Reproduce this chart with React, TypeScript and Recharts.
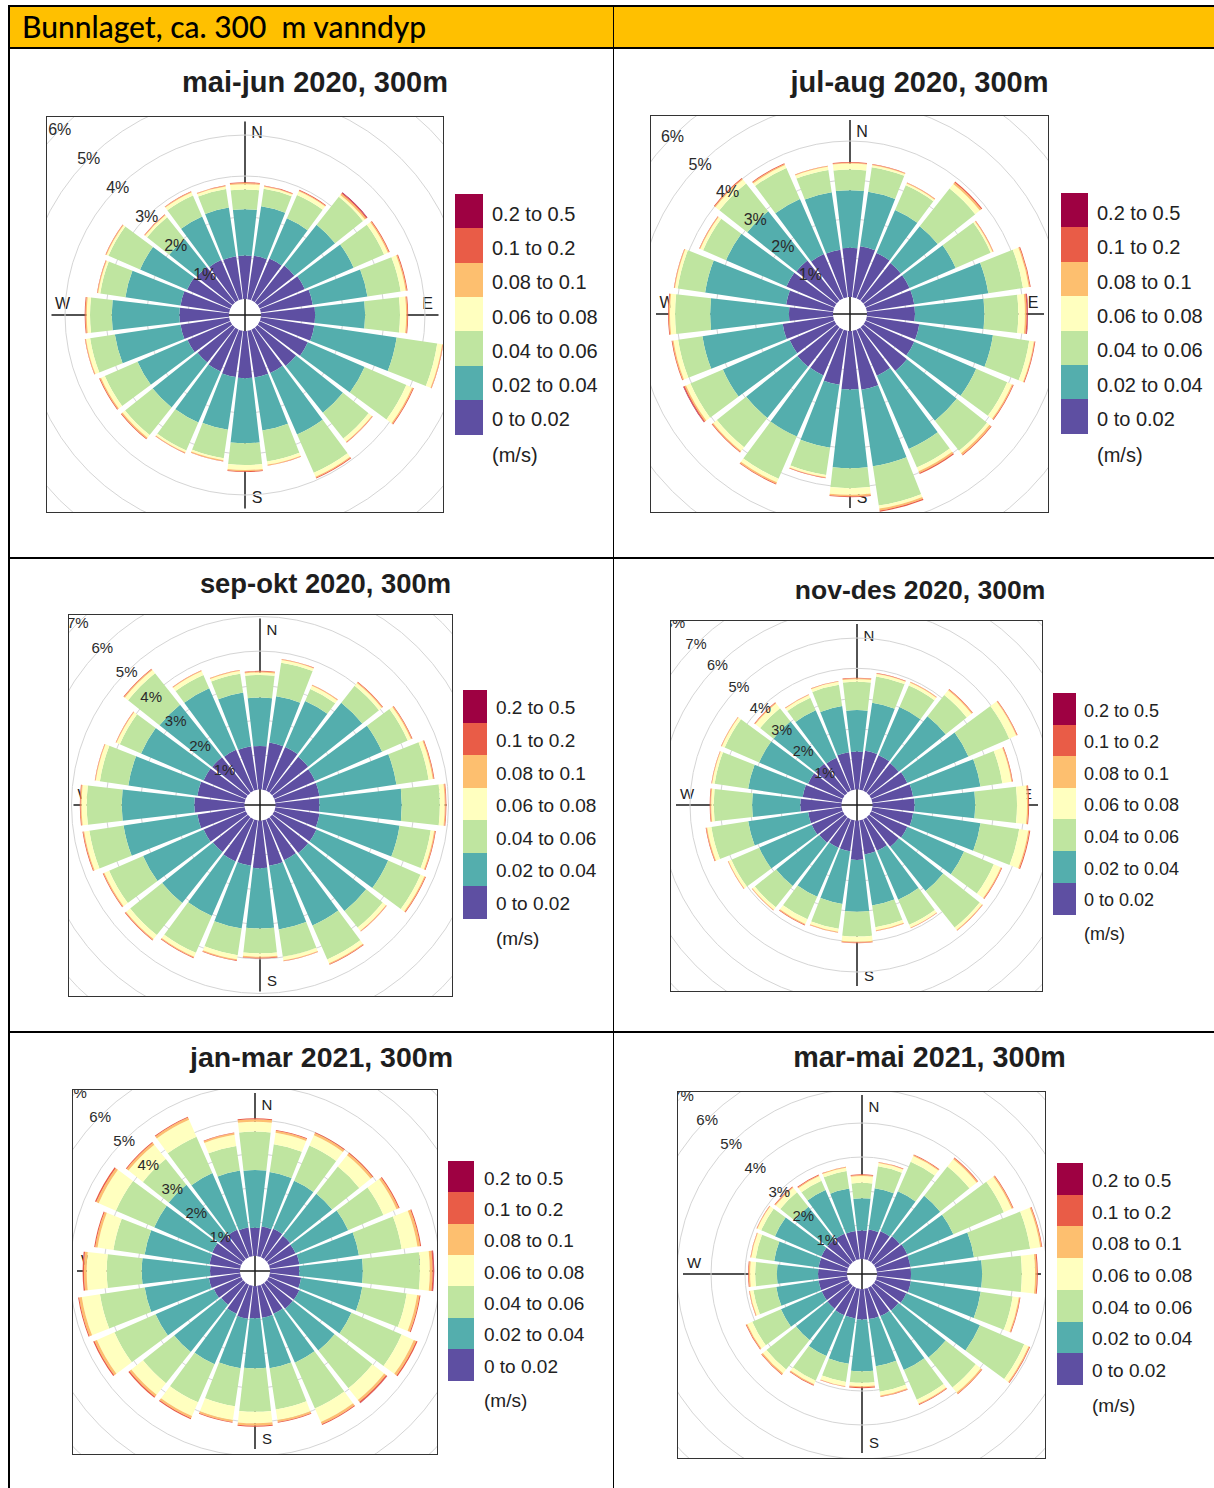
import React from 'react';
import { RadialBarChart, RadialBar, PolarGrid, PolarAngleAxis, PolarRadiusAxis } from 'recharts';

// ---- shared categories ----
const directions = [0, 15, 30, 45, 60, 75, 90, 105, 120, 135, 150, 165, 180, 195, 210, 225, 240, 255, 270, 285, 300, 315, 330, 345];
const speedBins = ['0 to 0.02', '0.02 to 0.04', '0.04 to 0.06', '0.06 to 0.08', '0.08 to 0.1', '0.1 to 0.2', '0.2 to 0.5'];
const binColors = ['#5E4FA2', '#54AEAD', '#BFE5A0', '#FFFFBF', '#FDBF6F', '#E95C47', '#9E0142'];
const compassPoints = ['N', 'E', 'S', 'W'];
const headerText = 'Bunnlaget, ca. 300  m vanndyp';
const speedUnit = '(m/s)';

// ---- frequency (%) per direction and speed bin ----
// mai-jun 2020
const maiJun20_b1 = [1.06, 1.07, 1.11, 1.15, 1.2, 1.28, 1.32, 1.32, 1.28, 1.2, 1.15, 1.15, 1.15, 1.14, 1.11, 1.09, 1.14, 1.2, 1.21, 1.2, 1.15, 1.11, 1.07, 1.06];
const maiJun20_b2 = [1.13, 1.22, 1.07, 1.27, 1.3, 1.35, 1.22, 2.03, 1.51, 1.46, 1.64, 1.31, 1.59, 1.3, 1.36, 1.4, 1.33, 1.62, 1.65, 1.36, 1.25, 0.86, 1.16, 1.2];
const maiJun20_b3 = [0.48, 0.43, 0.62, 0.87, 0.81, 0.82, 0.85, 1.0, 1.11, 0.8, 1.02, 0.76, 0.53, 0.7, 0.74, 0.86, 0.87, 0.61, 0.53, 0.62, 0.84, 0.69, 0.56, 0.46];
const maiJun20_b4 = [0.13, 0.05, 0.1, 0.06, 0.1, 0.12, 0.15, 0.12, 0.15, 0.1, 0.1, 0.08, 0.12, 0.05, 0.05, 0.08, 0.1, 0.1, 0.08, 0.05, 0.05, 0.06, 0.08, 0.06];
const maiJun20_b5 = [0.03, 0.02, 0.02, 0.04, 0.03, 0.03, 0.03, 0.02, 0.03, 0.02, 0.03, 0.02, 0.03, 0.02, 0.02, 0.03, 0.03, 0.02, 0.03, 0.02, 0.02, 0.02, 0.02, 0.02];
const maiJun20_b6 = [0.02, 0.01, 0.02, 0.03, 0.02, 0.02, 0.02, 0.01, 0.02, 0.01, 0.02, 0.01, 0.02, 0.01, 0.01, 0.02, 0.02, 0.01, 0.02, 0.01, 0.01, 0.01, 0.01, 0.01];
const maiJun20_b7 = [0, 0, 0, 0.01, 0, 0, 0, 0, 0, 0, 0, 0, 0, 0, 0, 0, 0, 0, 0, 0, 0, 0, 0, 0];

// jul-aug 2020
const julAug20_b1 = [1.26, 1.32, 1.27, 1.23, 1.23, 1.23, 1.23, 1.36, 1.36, 1.43, 1.29, 1.53, 1.5, 1.4, 1.28, 1.29, 1.25, 1.31, 1.13, 1.22, 1.34, 1.32, 1.24, 1.23];
const julAug20_b2 = [1.48, 1.41, 1.2, 1.21, 1.29, 1.92, 1.78, 1.91, 1.73, 1.63, 2.05, 1.98, 2.02, 1.63, 1.71, 1.68, 1.87, 2.08, 2.02, 2.1, 1.69, 1.61, 1.54, 1.49];
const julAug20_b3 = [0.53, 0.64, 0.69, 1.23, 0.98, 0.9, 0.87, 0.94, 0.87, 0.99, 0.52, 1.02, 0.51, 0.71, 1.18, 0.96, 0.91, 0.63, 0.9, 0.71, 0.64, 0.91, 0.87, 0.58];
const julAug20_b4 = [0.15, 0.05, 0.05, 0.15, 0.05, 0.15, 0.17, 0.12, 0.13, 0.08, 0.1, 0.08, 0.17, 0.05, 0.1, 0.12, 0.12, 0.12, 0.13, 0.07, 0.08, 0.13, 0.08, 0.08];
const julAug20_b5 = [0.02, 0.02, 0.02, 0.05, 0.02, 0.03, 0.04, 0.02, 0.03, 0.05, 0.05, 0.05, 0.04, 0.02, 0.04, 0.03, 0.04, 0.03, 0.03, 0.02, 0.02, 0.03, 0.03, 0.02];
const julAug20_b6 = [0.02, 0.01, 0.01, 0.03, 0.01, 0.02, 0.03, 0.02, 0.02, 0.02, 0.03, 0.03, 0.02, 0.01, 0.02, 0.02, 0.03, 0.02, 0.02, 0.01, 0.01, 0.02, 0.02, 0.01];
const julAug20_b7 = [0, 0, 0, 0, 0, 0, 0.01, 0, 0, 0, 0, 0, 0, 0, 0, 0, 0.01, 0, 0, 0, 0, 0, 0, 0];

// sep-okt 2020
const sepOkt20_b1 = [1.26, 1.38, 1.38, 1.33, 1.29, 1.29, 1.27, 1.29, 1.33, 1.33, 1.29, 1.33, 1.38, 1.33, 1.33, 1.29, 1.33, 1.38, 1.45, 1.38, 1.33, 1.32, 1.29, 1.27];
const sepOkt20_b2 = [1.4, 1.35, 1.45, 2.0, 2.11, 2.25, 2.38, 2.34, 2.26, 2.14, 2.06, 1.86, 1.74, 1.83, 1.72, 1.88, 1.91, 2.16, 2.1, 2.02, 1.97, 1.94, 1.94, 1.57];
const sepOkt20_b3 = [0.65, 0.98, 0.38, 0.62, 0.81, 0.94, 1.1, 0.91, 1.02, 0.61, 1.07, 0.8, 0.72, 0.78, 1.16, 1.18, 1.07, 1.0, 1.01, 0.83, 0.67, 1.16, 0.42, 0.55];
const sepOkt20_b4 = [0.07, 0.08, 0.1, 0.1, 0.1, 0.12, 0.14, 0.1, 0.12, 0.12, 0.12, 0.1, 0.1, 0.12, 0.12, 0.15, 0.15, 0.15, 0.15, 0.12, 0.1, 0.12, 0.12, 0.08];
const sepOkt20_b5 = [0.03, 0.02, 0.02, 0.03, 0.03, 0.03, 0.03, 0.03, 0.03, 0.02, 0.03, 0.02, 0.03, 0.03, 0.03, 0.03, 0.03, 0.03, 0.03, 0.02, 0.02, 0.03, 0.02, 0.02];
const sepOkt20_b6 = [0.02, 0.01, 0.01, 0.02, 0.02, 0.02, 0.02, 0.02, 0.02, 0.01, 0.02, 0.01, 0.02, 0.02, 0.02, 0.02, 0.02, 0.02, 0.02, 0.01, 0.01, 0.02, 0.01, 0.01];
const sepOkt20_b7 = [0, 0, 0, 0, 0, 0, 0, 0, 0, 0, 0, 0, 0, 0, 0, 0, 0, 0, 0, 0, 0, 0, 0, 0];

// nov-des 2020
const novDes20_b1 = [1.25, 1.3, 1.28, 1.25, 1.3, 1.36, 1.39, 1.36, 1.3, 1.25, 1.14, 1.14, 1.3, 1.03, 1.03, 1.08, 1.12, 1.12, 1.36, 1.3, 1.25, 1.23, 1.19, 1.25];
const novDes20_b2 = [1.37, 1.6, 1.73, 1.98, 2.2, 2.25, 2.0, 2.25, 2.04, 1.87, 1.76, 1.7, 1.71, 1.76, 1.76, 1.82, 1.89, 2.0, 1.59, 1.82, 1.76, 1.78, 1.71, 1.54];
const novDes20_b3 = [0.94, 0.88, 0.78, 0.89, 1.47, 0.73, 1.38, 1.29, 1.07, 1.54, 0.9, 0.73, 0.82, 0.83, 0.81, 0.9, 1.0, 1.23, 1.27, 1.12, 1.24, 0.56, 0.45, 0.71];
const novDes20_b4 = [0.08, 0.08, 0.1, 0.2, 0.25, 0.3, 0.33, 0.3, 0.25, 0.1, 0.1, 0.1, 0.17, 0.1, 0.17, 0.1, 0.1, 0.14, 0.08, 0.08, 0.1, 0.2, 0.1, 0.1];
const novDes20_b5 = [0.03, 0.02, 0.02, 0.04, 0.03, 0.03, 0.04, 0.04, 0.03, 0.02, 0.02, 0.02, 0.03, 0.02, 0.03, 0.02, 0.02, 0.03, 0.03, 0.02, 0.02, 0.03, 0.02, 0.02];
const novDes20_b6 = [0.02, 0.01, 0.01, 0.02, 0.02, 0.02, 0.03, 0.03, 0.02, 0.01, 0.01, 0.01, 0.02, 0.01, 0.02, 0.01, 0.01, 0.02, 0.02, 0.01, 0.01, 0.02, 0.01, 0.01];
const novDes20_b7 = [0, 0, 0, 0, 0, 0, 0, 0, 0, 0, 0, 0, 0, 0, 0, 0, 0, 0, 0, 0, 0, 0, 0, 0];

// jan-mar 2021
const janMar21_b1 = [0.83, 0.88, 0.91, 0.88, 0.86, 0.88, 0.86, 0.93, 0.98, 0.98, 0.93, 0.95, 0.95, 0.98, 0.93, 0.83, 0.88, 0.93, 0.88, 0.91, 0.93, 0.91, 0.88, 0.85];
const janMar21_b2 = [1.7, 1.62, 1.54, 1.58, 1.69, 1.77, 1.87, 1.82, 1.67, 1.57, 1.57, 1.5, 1.47, 1.47, 1.62, 1.77, 1.87, 1.91, 2.01, 1.93, 1.86, 1.89, 1.82, 1.7];
const janMar21_b3 = [1.13, 0.83, 1.13, 1.02, 1.13, 1.27, 1.68, 1.32, 1.61, 1.42, 1.47, 1.23, 1.28, 1.13, 1.22, 1.17, 1.32, 1.33, 1.03, 0.93, 1.23, 0.97, 1.17, 0.73];
const janMar21_b4 = [0.29, 0.34, 0.33, 0.43, 0.42, 0.47, 0.29, 0.31, 0.39, 0.44, 0.43, 0.31, 0.34, 0.41, 0.44, 0.44, 0.56, 0.54, 0.59, 0.47, 0.55, 0.54, 0.54, 0.33];
const janMar21_b5 = [0.07, 0.06, 0.07, 0.07, 0.07, 0.08, 0.08, 0.07, 0.08, 0.07, 0.07, 0.06, 0.07, 0.06, 0.07, 0.07, 0.08, 0.08, 0.08, 0.07, 0.08, 0.07, 0.07, 0.05];
const janMar21_b6 = [0.03, 0.02, 0.03, 0.03, 0.03, 0.03, 0.04, 0.03, 0.04, 0.04, 0.03, 0.02, 0.03, 0.02, 0.03, 0.04, 0.04, 0.03, 0.04, 0.03, 0.04, 0.03, 0.03, 0.02];
const janMar21_b7 = [0, 0, 0, 0, 0, 0, 0.01, 0, 0, 0.01, 0, 0, 0, 0, 0, 0, 0, 0, 0, 0, 0, 0, 0, 0];

// mar-mai 2021
const marMai21_b1 = [0.84, 0.88, 0.93, 0.98, 1.01, 1.0, 1.0, 1.01, 0.98, 0.93, 0.91, 0.9, 0.9, 0.88, 0.88, 0.86, 0.85, 0.85, 0.85, 0.85, 0.86, 0.86, 0.85, 0.84];
const marMai21_b2 = [0.95, 1.23, 1.28, 1.52, 1.48, 1.89, 2.09, 2.08, 2.36, 1.77, 1.73, 1.4, 1.52, 1.35, 1.31, 1.18, 1.31, 1.26, 1.21, 1.32, 1.49, 1.23, 1.4, 1.26];
const marMai21_b3 = [0.45, 0.65, 0.95, 1.1, 1.62, 1.67, 1.17, 0.95, 1.42, 1.13, 0.95, 0.76, 0.34, 0.54, 0.79, 1.11, 0.92, 0.68, 0.64, 0.55, 0.44, 0.54, 0.3, 0.52];
const marMai21_b4 = [0.2, 0.1, 0.18, 0.27, 0.25, 0.3, 0.39, 0.18, 0.14, 0.19, 0.12, 0.11, 0.1, 0.12, 0.11, 0.14, 0.16, 0.1, 0.15, 0.13, 0.12, 0.17, 0.15, 0.1];
const marMai21_b5 = [0.03, 0.02, 0.03, 0.04, 0.04, 0.04, 0.05, 0.03, 0.03, 0.04, 0.03, 0.03, 0.03, 0.02, 0.03, 0.04, 0.03, 0.02, 0.04, 0.02, 0.02, 0.03, 0.03, 0.02];
const marMai21_b6 = [0.02, 0.01, 0.02, 0.02, 0.02, 0.02, 0.03, 0.02, 0.02, 0.02, 0.02, 0.02, 0.03, 0.01, 0.02, 0.02, 0.02, 0.01, 0.02, 0.01, 0.01, 0.02, 0.02, 0.01];
const marMai21_b7 = [0, 0, 0, 0, 0, 0, 0, 0, 0, 0, 0, 0, 0, 0, 0, 0, 0, 0, 0, 0, 0, 0, 0, 0];

const titles = ['mai-jun 2020, 300m', 'jul-aug 2020, 300m', 'sep-okt 2020, 300m', 'nov-des 2020, 300m', 'jan-mar 2021, 300m', 'mar-mai 2021, 300m'];

type LegendSpec = { x: number; y: number; boxW: number; rowH: number; labelX: number; fontSize: number };
type RoseSpec = {
  title: string;
  bins: number[][];
  box: [number, number, number, number];
  center: [number, number];
  hole: number;
  pxPerPct: number;
  maxTick: number;
  titleAt: [number, number];
  titleSize: number;
  legend: LegendSpec;
  pctFont: number;
  compassFont: number;
};

const roses: RoseSpec[] = [
  {
    title: titles[0],
    bins: [maiJun20_b1, maiJun20_b2, maiJun20_b3, maiJun20_b4, maiJun20_b5, maiJun20_b6, maiJun20_b7],
    box: [46, 116, 398, 397], center: [199, 199], hole: 16, pxPerPct: 41, maxTick: 6,
    titleAt: [315, 82], titleSize: 29,
    legend: { x: 455, y: 194, boxW: 28, rowH: 34.3, labelX: 492, fontSize: 20 },
    pctFont: 16, compassFont: 16,
  },
  {
    title: titles[1],
    bins: [julAug20_b1, julAug20_b2, julAug20_b3, julAug20_b4, julAug20_b5, julAug20_b6, julAug20_b7],
    box: [650, 115, 399, 398], center: [200, 199], hole: 17, pxPerPct: 39, maxTick: 6,
    titleAt: [919.5, 82], titleSize: 29,
    legend: { x: 1061, y: 193, boxW: 27, rowH: 34.4, labelX: 1097, fontSize: 20 },
    pctFont: 16, compassFont: 16,
  },
  {
    title: titles[2],
    bins: [sepOkt20_b1, sepOkt20_b2, sepOkt20_b3, sepOkt20_b4, sepOkt20_b5, sepOkt20_b6, sepOkt20_b7],
    box: [68, 614, 385, 383], center: [192, 191], hole: 15.5, pxPerPct: 34.6, maxTick: 7,
    titleAt: [325.5, 583], titleSize: 27.4,
    legend: { x: 463, y: 690, boxW: 24, rowH: 32.6, labelX: 496, fontSize: 19 },
    pctFont: 15, compassFont: 15,
  },
  {
    title: titles[3],
    bins: [novDes20_b1, novDes20_b2, novDes20_b3, novDes20_b4, novDes20_b5, novDes20_b6, novDes20_b7],
    box: [670, 620, 373, 372], center: [187, 185], hole: 15.5, pxPerPct: 30.3, maxTick: 8,
    titleAt: [920, 590], titleSize: 26.5,
    legend: { x: 1053, y: 693, boxW: 23, rowH: 31.6, labelX: 1084, fontSize: 18 },
    pctFont: 14.5, compassFont: 15,
  },
  {
    title: titles[4],
    bins: [janMar21_b1, janMar21_b2, janMar21_b3, janMar21_b4, janMar21_b5, janMar21_b6, janMar21_b7],
    box: [72, 1089, 366, 366], center: [183, 182], hole: 15, pxPerPct: 34, maxTick: 7,
    titleAt: [321.5, 1057], titleSize: 28.5,
    legend: { x: 448, y: 1161, boxW: 26, rowH: 31.3, labelX: 484, fontSize: 19 },
    pctFont: 15, compassFont: 15,
  },
  {
    title: titles[5],
    bins: [marMai21_b1, marMai21_b2, marMai21_b3, marMai21_b4, marMai21_b5, marMai21_b6, marMai21_b7],
    box: [677, 1091, 369, 368], center: [185, 183], hole: 15, pxPerPct: 34, maxTick: 7,
    titleAt: [929.5, 1057], titleSize: 28.7,
    legend: { x: 1057, y: 1163, boxW: 26, rowH: 31.7, labelX: 1092, fontSize: 19 },
    pctFont: 15, compassFont: 15,
  },
];

const FONT = '"Liberation Sans", Arial, Helvetica, sans-serif';
const binKeys = speedBins.map((_, i) => `b${i + 1}`);
const noMargin = { top: 0, right: 0, bottom: 0, left: 0 };
// sector width of one direction class (24 classes around the circle)
const SECTOR = 360 / directions.length;
// letters sit this far inside the end of the compass cross
const LETTER_INSET = 19;

function toRows(bins: number[][]) {
  return directions.map((dir, i) => {
    const row: Record<string, number> = { dir };
    bins.forEach((b, k) => {
      row[binKeys[k]] = b[i];
    });
    return row;
  });
}

// compass cross and N/E/S/W letters, drawn beneath the rose
function CompassLayer({ spec }: { spec: RoseSpec }) {
  const [, , w, h] = spec.box;
  const half = Math.min(w, h) / 2;
  const data = compassPoints.map((p) => ({ point: p }));
  const tick = (props: any) => {
    const { x, y, payload } = props;
    const v = payload.value as string;
    let dx = 0;
    let dy = 0;
    if (v === 'N') { dx = 12; dy = LETTER_INSET; }
    if (v === 'S') { dx = 12; dy = -LETTER_INSET; }
    if (v === 'E') { dx = -LETTER_INSET; dy = -12; }
    if (v === 'W') { dx = LETTER_INSET; dy = -12; }
    return (
      <text x={x + dx} y={y + dy} textAnchor="middle" dominantBaseline="central" fontSize={spec.compassFont} fill="#222" fontFamily={FONT}>
        {v}
      </text>
    );
  };
  return (
    <RadialBarChart
      width={w}
      height={h}
      data={data}
      layout="centric"
      cx={spec.center[0]}
      cy={spec.center[1]}
      innerRadius={0}
      outerRadius={half - 5}
      startAngle={90}
      endAngle={-270}
      margin={noMargin}
    >
      <PolarGrid gridType="circle" polarRadius={[]} polarAngles={[90, 0, -90, 180]} radialLines stroke="#1a1a1a" strokeWidth={1.5} />
      <PolarAngleAxis dataKey="point" type="category" axisLine={false} tickLine={false} tick={tick} />
    </RadialBarChart>
  );
}

function RoseLayer({ spec }: { spec: RoseSpec }) {
  const [, , w, h] = spec.box;
  const data = toRows(spec.bins);
  const domainMax = spec.maxTick + 1;
  const ticks = Array.from({ length: spec.maxTick }, (_, i) => i + 1);
  const pctTick = (props: any) => {
    const { x, y, payload } = props;
    return (
      <text x={x} y={y} textAnchor="middle" dominantBaseline="central" fontSize={spec.pctFont} fill="#2a2a2a" fontFamily={FONT}>
        {`${payload.value}%`}
      </text>
    );
  };
  // first sector (north) is centred on 90 degrees, directions run clockwise
  const start = 90 - SECTOR / 2;
  return (
    <RadialBarChart
      width={w}
      height={h}
      data={data}
      layout="centric"
      cx={spec.center[0]}
      cy={spec.center[1]}
      innerRadius={spec.hole}
      outerRadius={spec.hole + spec.pxPerPct * domainMax}
      startAngle={start}
      endAngle={start - 360}
      barCategoryGap="7%"
      margin={noMargin}
    >
      <PolarGrid gridType="circle" radialLines={false} stroke="#d5d5d5" strokeWidth={1} />
      <PolarAngleAxis dataKey="dir" type="category" tick={false} axisLine={false} tickLine={false} />
      {binKeys.map((k, i) => (
        <RadialBar key={k} dataKey={k} stackId="speed" fill={binColors[i]} isAnimationActive={false} />
      ))}
      <PolarRadiusAxis type="number" domain={[0, domainMax]} ticks={ticks} angle={135} axisLine={false} tickLine={false} tick={pctTick} />
    </RadialBarChart>
  );
}

function SpeedLegend({ lg }: { lg: LegendSpec }) {
  const rows = speedBins.map((label, i) => ({ label, color: binColors[i] })).reverse();
  const labelTop = (centerY: number) => centerY - lg.fontSize * 0.6;
  return (
    <>
      {rows.map((r, i) => (
        <React.Fragment key={r.label}>
          <div style={{ position: 'absolute', left: lg.x, top: lg.y + i * lg.rowH, width: lg.boxW, height: lg.rowH + 0.5, background: r.color }} />
          <div
            style={{
              position: 'absolute',
              left: lg.labelX,
              top: labelTop(lg.y + (i + 0.5) * lg.rowH + 2.5),
              fontSize: lg.fontSize,
              lineHeight: `${lg.fontSize * 1.2}px`,
              fontFamily: FONT,
              color: '#222',
              whiteSpace: 'nowrap',
            }}
          >
            {r.label}
          </div>
        </React.Fragment>
      ))}
      <div
        style={{
          position: 'absolute',
          left: lg.labelX,
          top: labelTop(lg.y + 7 * lg.rowH + 21),
          fontSize: lg.fontSize,
          lineHeight: `${lg.fontSize * 1.2}px`,
          fontFamily: FONT,
          color: '#222',
        }}
      >
        {speedUnit}
      </div>
    </>
  );
}

function RosePanel({ spec }: { spec: RoseSpec }) {
  const [left, top, w, h] = spec.box;
  return (
    <>
      <div
        style={{
          position: 'absolute',
          left: spec.titleAt[0] - 300,
          width: 600,
          top: spec.titleAt[1] - spec.titleSize * 0.49,
          textAlign: 'center',
          fontFamily: FONT,
          fontWeight: 700,
          fontSize: spec.titleSize,
          lineHeight: 1,
          color: '#1e1e1e',
          whiteSpace: 'nowrap',
        }}
      >
        {spec.title}
      </div>
      <div style={{ position: 'absolute', left, top, width: w, height: h, background: '#fff' }}>
        <div style={{ position: 'absolute', left: 0, top: 0 }}>
          <CompassLayer spec={spec} />
        </div>
        <div style={{ position: 'absolute', left: 0, top: 0 }}>
          <RoseLayer spec={spec} />
        </div>
        <div style={{ position: 'absolute', left: 0, top: 0, width: w, height: h, border: '1.5px solid #333', boxSizing: 'border-box' }} />
      </div>
      <SpeedLegend lg={spec.legend} />
    </>
  );
}

export default function App() {
  const line = '#000';
  return (
    <div style={{ position: 'absolute', left: 0, top: 0, width: 1214, height: 1488, background: '#fff', overflow: 'hidden' }}>
      {/* header band */}
      <div style={{ position: 'absolute', left: 8, top: 5, width: 1206, height: 43, background: '#FFC000' }} />
      <div
        style={{
          position: 'absolute',
          left: 22,
          top: 11,
          fontFamily: 'Lato, "Open Sans", sans-serif',
          fontSize: 30,
          fontWeight: 500,
          lineHeight: '30px',
          color: '#000',
          whiteSpace: 'pre',
        }}
      >
        {headerText}
      </div>
      {/* table rules */}
      <div style={{ position: 'absolute', left: 8, top: 5, width: 1206, height: 2, background: line }} />
      <div style={{ position: 'absolute', left: 8, top: 47, width: 1206, height: 2, background: line }} />
      <div style={{ position: 'absolute', left: 8, top: 557, width: 1206, height: 1.5, background: line }} />
      <div style={{ position: 'absolute', left: 8, top: 1031, width: 1206, height: 1.5, background: line }} />
      <div style={{ position: 'absolute', left: 8, top: 5, width: 2, height: 1483, background: line }} />
      <div style={{ position: 'absolute', left: 612.5, top: 5, width: 1.5, height: 1483, background: line }} />
      {roses.map((r) => (
        <RosePanel key={r.title} spec={r} />
      ))}
    </div>
  );
}
